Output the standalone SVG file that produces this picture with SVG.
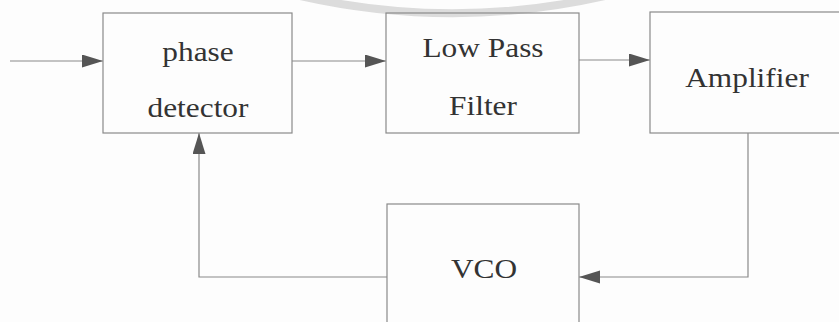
<svg xmlns="http://www.w3.org/2000/svg" width="839" height="322" viewBox="0 0 839 322">
  <style>
    .box { fill: none; stroke: #8a8a8a; stroke-width: 1.2; }
    .wire { fill: none; stroke: #8a8a8a; stroke-width: 1.2; }
    .lbl { font-family: "Liberation Serif", "Times New Roman", serif; font-size: 28px; fill: #333; text-anchor: middle; }
  </style>
  <defs>
    <marker id="arr" markerUnits="userSpaceOnUse" markerWidth="22" markerHeight="14" refX="21" refY="6.5" orient="auto">
      <path d="M0,0 L21,6.5 L0,13 z" fill="#555"/>
    </marker>
  </defs>
  <rect width="839" height="322" fill="#fdfdfd"/>
  <path d="M 300 -4 A 692 692 0 0 0 605 -4" fill="none" stroke="#dcdcdc" stroke-width="8"/>

  <g id="connectors">
    <path class="wire" d="M 10 61 L 103 61" marker-end="url(#arr)"/>
    <path class="wire" d="M 292 61 L 386 61" marker-end="url(#arr)"/>
    <path class="wire" d="M 579 60 L 650 60" marker-end="url(#arr)"/>
    <path class="wire" d="M 748 133 L 748 277 L 579 277" marker-end="url(#arr)"/>
    <path class="wire" d="M 387 277 L 199 277 L 199 133" marker-end="url(#arr)"/>
  </g>

  <g id="phase-detector">
    <rect class="box" x="103" y="13" width="189" height="120"/>
    <text class="lbl" transform="translate(198,61) scale(1.12,1)">phase</text>
    <text class="lbl" transform="translate(198,117) scale(1.12,1)">detector</text>
  </g>
  <g id="low-pass-filter">
    <rect class="box" x="386" y="13" width="193" height="120"/>
    <text class="lbl" transform="translate(483,57) scale(1.12,1)">Low Pass</text>
    <text class="lbl" transform="translate(483,115) scale(1.12,1)">Filter</text>
  </g>
  <g id="amplifier">
    <rect class="box" x="650" y="12" width="220" height="121"/>
    <text class="lbl" transform="translate(747,87) scale(1.12,1)">Amplifier</text>
  </g>
  <g id="vco">
    <rect class="box" x="387" y="204" width="192" height="140"/>
    <text class="lbl" transform="translate(484,278) scale(1.12,1)">VCO</text>
  </g>
</svg>
